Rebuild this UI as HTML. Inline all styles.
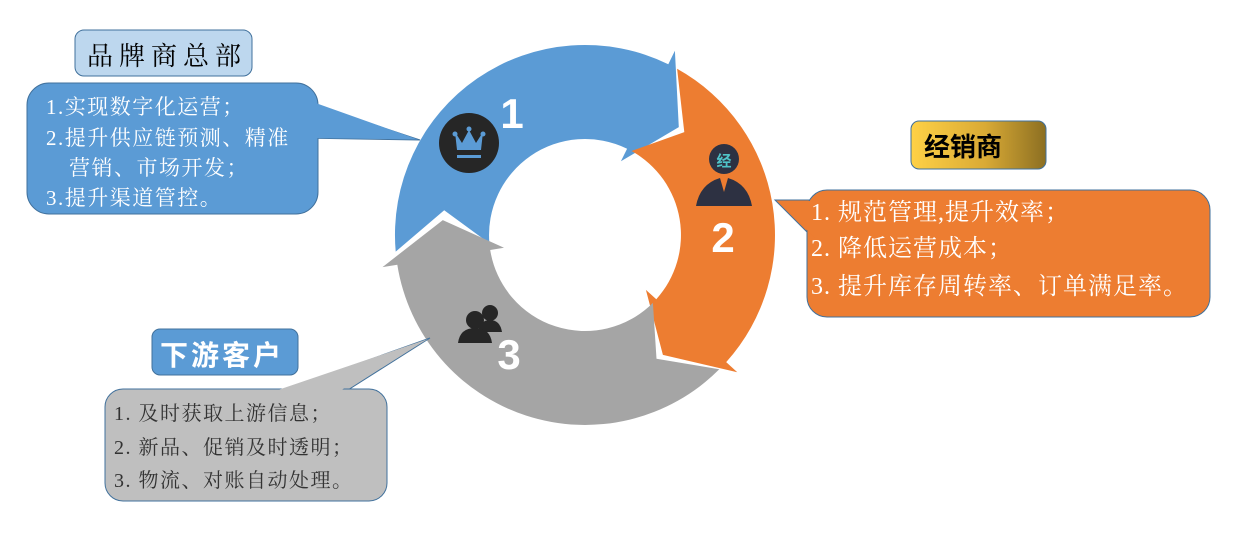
<!DOCTYPE html>
<html><head><meta charset="utf-8"><style>
html,body{margin:0;padding:0;background:#fff;width:1246px;height:535px;overflow:hidden}
svg{display:block}
.s{font-family:"Liberation Serif","Noto Serif CJK SC",serif}
.b{font-family:"Liberation Sans","Noto Sans CJK SC",sans-serif;font-weight:bold}
</style></head><body>
<svg width="1246" height="535" viewBox="0 0 1246 535" xmlns="http://www.w3.org/2000/svg">
<defs>
<linearGradient id="g" x1="0" x2="1" y1="0" y2="0"><stop offset="0" stop-color="#ffd146"/><stop offset="0.55" stop-color="#d9aa35"/><stop offset="1" stop-color="#8c6f22"/></linearGradient>
</defs>
<!-- ring -->
<path fill="#5b9bd5" d="M395.7,251.6 A190,190 0 0 1 668.3,64.2 L674.9,50.7 L678.8,127.1 L620.9,161.3 L627.1,148.7 A96,96 0 0 0 489.4,243.4 L444.2,210.2 Z"/>
<path fill="#ed7d31" d="M677.1,68.8 A190,190 0 0 1 726.2,362.1 L737.3,372.2 L662.9,354.9 L645.9,289.9 L656.3,299.2 A96,96 0 0 0 631.5,151.0 L684.3,132.1 Z"/>
<path fill="#a5a5a5" d="M719.3,369.3 A190,190 0 0 1 397.3,264.7 L382.5,267.1 L442.8,220.1 L504.0,247.8 L490.2,250.0 A96,96 0 0 0 652.9,302.9 L656.5,358.8 Z"/>

<!-- callout blue -->
<path d="M300,100 L420,140 L300,138 Z" fill="#5b9bd5" stroke="#41719c" stroke-width="1"/>
<rect x="27" y="83" width="291" height="131" rx="22" fill="#5b9bd5" stroke="#41719c"/>
<path d="M310,101 L418,139.5 L310,138 Z" fill="#5b9bd5"/>
<rect x="75" y="30" width="177" height="46" rx="9" fill="#bdd7ee" stroke="#41719c"/>
<text x="87" y="65" class="s" font-size="26" letter-spacing="6" fill="#000">品牌商总部</text>
<g class="s" font-size="21" letter-spacing="1.5" fill="#fff">
<text x="46" y="114">1.实现数字化运营；</text>
<text x="46" y="145">2.提升供应链预测、精准</text>
<text x="69" y="175">营销、市场开发；</text>
<text x="46" y="205">3.提升渠道管控。</text>
</g>

<!-- callout orange -->
<path d="M820,200 L775,200 L820,245 Z" fill="#ed7d31" stroke="#41719c"/>
<rect x="807" y="190" width="403" height="127" rx="20" fill="#ed7d31" stroke="#41719c"/>
<path d="M815,201 L778,201 L815,238 Z" fill="#ed7d31"/>
<rect x="911" y="121" width="135" height="48" rx="8" fill="url(#g)" stroke="#41719c"/>
<text x="924" y="156" class="b" font-size="26" fill="#000">经销商</text>
<g class="s" font-size="24" letter-spacing="1" fill="#fff">
<text x="811" y="220">1.  规范管理,提升效率；</text>
<text x="811" y="256">2.  降低运营成本；</text>
<text x="811" y="294">3.  提升库存周转率、订单满足率。</text>
</g>

<!-- callout gray -->
<path d="M270,395 L430,338 L340,395 Z" fill="#bfbfbf" stroke="#41719c"/>
<rect x="105" y="389" width="282" height="112" rx="18" fill="#bfbfbf" stroke="#41719c"/>
<path d="M272,392 L428,339 L338,392 Z" fill="#bfbfbf"/>
<rect x="152" y="329" width="146" height="46" rx="8" fill="#5b9bd5" stroke="#41719c"/>
<text x="160" y="365" class="b" font-size="28" letter-spacing="3" fill="#fff">下游客户</text>
<g class="s" font-size="20" letter-spacing="1.5" fill="#333">
<text x="114" y="420">1.  及时获取上游信息；</text>
<text x="114" y="454">2.  新品、促销及时透明；</text>
<text x="114" y="487">3.  物流、对账自动处理。</text>
</g>

<!-- icons -->
<circle cx="469" cy="143" r="30" fill="#262626"/>
<path d="M455,132 L462,143 L469,130 L476,143 L483,132 L481,150 L457,150 Z" fill="#5b9bd5"/>
<circle cx="455" cy="134" r="2.5" fill="#5b9bd5"/><circle cx="469" cy="129" r="2.5" fill="#5b9bd5"/><circle cx="483" cy="134" r="2.5" fill="#5b9bd5"/>
<rect x="457" y="155" width="24" height="3" fill="#5b9bd5"/>
<text x="512" y="128" class="b" font-size="42" fill="#fff" text-anchor="middle">1</text>

<circle cx="724" cy="159" r="15" fill="#2d3142"/>
<text x="724" y="166" class="b" font-size="15" fill="#4fc3c8" text-anchor="middle">经</text>
<path d="M696,206 Q700,184 720,178 L728,178 Q748,184 752,206 Z" fill="#2d3142"/>
<path d="M720,178 L724,192 L728,178 Z" fill="#ed7d31"/>
<text x="723" y="252" class="b" font-size="42" fill="#fff" text-anchor="middle">2</text>

<g fill="#262626">
<circle cx="490" cy="313" r="8"/><path d="M478,332 Q480,320 490,320 Q500,320 502,332 Z"/>
<circle cx="475" cy="320" r="9"/><path d="M458,343 Q460,328 475,328 Q490,328 492,343 Z"/>
</g>
<text x="509" y="369" class="b" font-size="42" fill="#fff" text-anchor="middle">3</text>
</svg>
</body></html>
